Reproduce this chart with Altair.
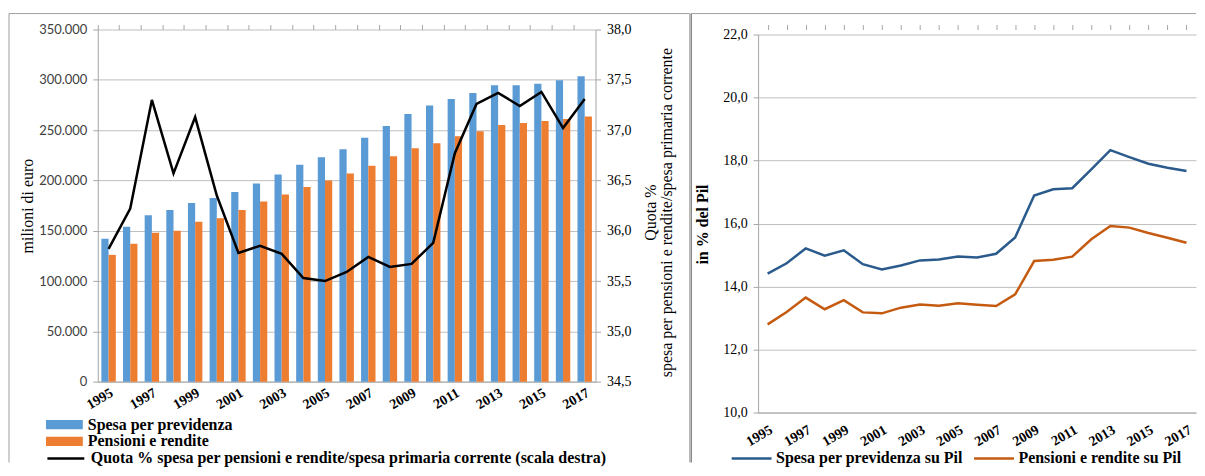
import altair as alt
import pandas as pd

# ---------------- data ----------------
years = list(range(1995, 2018))
spesa_previdenza = [142000, 154000, 165500, 170500, 177500, 182500, 188500, 197000, 206000, 215500,
                    223000, 231000, 242500, 254000, 266000, 274500, 281000, 287000, 294500, 294500,
                    296000, 299500, 303500]
pensioni_rendite = [126000, 137000, 148000, 150000, 159000, 162500, 170500, 179000, 186000, 193500,
                    200000, 207000, 214500, 224000, 232000, 237000, 244000, 249000, 255000, 257000,
                    259000, 261000, 263500]
quota_pct = [35.82, 36.22, 37.30, 36.57, 37.13, 36.35, 35.78, 35.85, 35.77, 35.53,
             35.50, 35.59, 35.74, 35.64, 35.67, 35.88, 36.77, 37.26, 37.37, 37.24,
             37.38, 37.02, 37.31]
spesa_su_pil = [14.41, 14.74, 15.21, 14.98, 15.15, 14.71, 14.54, 14.67, 14.83, 14.86,
                14.95, 14.92, 15.04, 15.56, 16.89, 17.09, 17.12, 17.72, 18.33, 18.11,
                17.90, 17.77, 17.67]
pensioni_su_pil = [12.80, 13.19, 13.65, 13.28, 13.57, 13.18, 13.15, 13.33, 13.43, 13.39,
                   13.47, 13.42, 13.38, 13.75, 14.81, 14.85, 14.95, 15.50, 15.92, 15.87,
                   15.70, 15.55, 15.39]

bar_series = ["Spesa per previdenza", "Pensioni e rendite"]
line_label = "Quota % spesa per pensioni e rendite/spesa primaria corrente (scala destra)"
pil_series = ["Spesa per previdenza su Pil", "Pensioni e rendite su Pil"]
label_years = years[::2]
left_ticks = list(range(0, 350001, 50000))
right_ticks = [34.5, 35.0, 35.5, 36.0, 36.5, 37.0, 37.5, 38.0]
pil_ticks = [10, 12, 14, 16, 18, 20, 22]

bars_df = pd.DataFrame({
    "year": years * 2,
    "serie": [bar_series[0]] * len(years) + [bar_series[1]] * len(years),
    "valore": spesa_previdenza + pensioni_rendite,
})
quota_df = pd.DataFrame({"year": years, "serie": [line_label] * len(years), "quota": quota_pct})
pil_df = pd.DataFrame({
    "year": years * 2,
    "serie": [pil_series[0]] * len(years) + [pil_series[1]] * len(years),
    "valore": spesa_su_pil + pensioni_su_pil,
})
one_row = pd.DataFrame({"k": [0]})

# ---------------- style ----------------
SERIF = "Liberation Serif"
GRID = "#BFBFBF"
AXC = "#A6A6A6"
FRAME = "#A0A0A0"
W1, H1 = 499, 353
W2, H2 = 439, 384          # right panel: plot drawn in range [H2, 5]
LEG_FS = 16

# ---------------- left panel ----------------
f1_left = alt.Chart(one_row).mark_rule(stroke=FRAME, strokeWidth=1).encode(
    x=alt.value(-89), y=alt.value(-16), y2=alt.value(434))
f1_top = alt.Chart(one_row).mark_rule(stroke=FRAME, strokeWidth=1).encode(
    x=alt.value(-89), x2=alt.value(593.5), y=alt.value(-16))
f1_right = alt.Chart(one_row).mark_rule(stroke=FRAME, strokeWidth=1).encode(
    x=alt.value(593.5), y=alt.value(-16), y2=alt.value(434))

bars = alt.Chart(bars_df).mark_bar().encode(
    x=alt.X("year:O", title=None,
            scale=alt.Scale(paddingInner=0, paddingOuter=0),
            axis=alt.Axis(values=label_years, labelAngle=330, labelAlign="right", labelBaseline="top",
                          labelFont=SERIF, labelFontWeight="bold", labelFontSize=14, labelColor="black",
                          labelPadding=4, ticks=False, domainColor=AXC, grid=False)),
    xOffset=alt.XOffset("serie:N", sort=bar_series,
                        scale=alt.Scale(domain=bar_series, paddingInner=0, paddingOuter=0.5)),
    y=alt.Y("valore:Q", title="milioni  di euro",
            scale=alt.Scale(domain=[0, 350000], nice=False),
            axis=alt.Axis(values=left_ticks, format=",.0f", labelFont="Lato", labelFontSize=13,
                          labelColor="#404040", labelPadding=6, titleFont=SERIF, titleFontSize=16,
                          titleFontWeight="normal", titleColor="black", titleX=-70, titleY=H1 / 2,
                          titleAngle=270, titleAlign="center", titleBaseline="middle",
                          gridColor=GRID, domainColor=AXC, tickColor=AXC, tickSize=5)),
    color=alt.Color("serie:N", sort=bar_series,
                    scale=alt.Scale(domain=bar_series, range=["#5B9BD5", "#ED7D31"]),
                    legend=alt.Legend(title=None, orient="none", legendX=-52, legendY=387.5,
                                      direction="vertical", symbolType="M-1,-0.25H1V0.25H-1Z",
                                      symbolSize=1369, symbolStrokeWidth=0, symbolOpacity=1,
                                      labelFont=SERIF, labelFontWeight="bold", labelFontSize=LEG_FS,
                                      labelColor="black", labelOffset=5, clipHeight=17, rowPadding=0,
                                      padding=0, labelLimit=1000)),
)

line = alt.Chart(quota_df).mark_line(strokeWidth=2.5).encode(
    x=alt.X("year:O", title=None,
            axis=alt.Axis(values=years, bandPosition=0, labels=False, domain=False, ticks=True,
                          tickSize=5, tickColor=AXC, grid=False)),
    y=alt.Y("quota:Q",
            title=["Quota %", "spesa per pensioni e rendite/spesa primaria  corrente"],
            scale=alt.Scale(domain=[34.5, 38.0], nice=False, zero=False),
            axis=alt.Axis(orient="right", values=right_ticks, format=".1f", grid=False,
                          labelFont=SERIF, labelFontSize=14, labelColor="black", labelPadding=6,
                          titleFont=SERIF, titleFontSize=16, titleFontWeight="normal",
                          titleColor="black", titleAngle=270, titleX=55, titleY=183,
                          titleAlign="center", titleBaseline="middle", titleLineHeight=16,
                          domainColor=AXC, tickColor=AXC, tickSize=5)),
    stroke=alt.Stroke("serie:N", scale=alt.Scale(domain=[line_label], range=["black"]),
                      legend=alt.Legend(title=None, orient="none", legendX=-52, legendY=421.5,
                                        symbolType="stroke", symbolSize=1369, symbolStrokeWidth=2.5,
                                        labelFont=SERIF, labelFontWeight="bold", labelFontSize=LEG_FS,
                                        labelColor="black", labelOffset=5, clipHeight=17,
                                        padding=0, labelLimit=1000)),
)

left = alt.layer(f1_left, f1_top, f1_right, bars, line).resolve_scale(
    y="independent", color="independent", stroke="independent"
).resolve_axis(x="independent").properties(width=W1, height=H1)

# ---------------- right panel ----------------
f2_left = alt.Chart(one_row).mark_rule(stroke="#8C8C8C", strokeWidth=1.5).encode(
    x=alt.value(-67), y=alt.value(-16), y2=alt.value(434))
f2_top = alt.Chart(one_row).mark_rule(stroke=FRAME, strokeWidth=1).encode(
    x=alt.value(-67), x2=alt.value(W2), y=alt.value(-16))

pil_lines = alt.Chart(pil_df).mark_line(strokeWidth=2.5).encode(
    x=alt.X("year:O", title=None,
            scale=alt.Scale(paddingInner=0, paddingOuter=0),
            axis=alt.Axis(values=label_years, labelAngle=330, labelAlign="right", labelBaseline="top",
                          labelFont=SERIF, labelFontWeight="bold", labelFontSize=14, labelColor="black",
                          labelPadding=10, ticks=False, domainColor=AXC, grid=False)),
    y=alt.Y("valore:Q", title="in % del Pil",
            scale=alt.Scale(domain=[10, 22], nice=False, zero=False, range=[H2, 5]),
            axis=alt.Axis(values=pil_ticks, format=".1f", labelFont=SERIF, labelFontSize=14,
                          labelColor="black", labelPadding=6, titleFont=SERIF, titleFontSize=16,
                          titleFontWeight="bold", titleColor="black", titleX=-56, titleY=H2 / 2 + 3,
                          titleAngle=270, titleAlign="center", titleBaseline="middle",
                          gridColor=GRID, domainColor=AXC, tickColor=AXC, tickSize=5)),
    color=alt.Color("serie:N", sort=pil_series,
                    scale=alt.Scale(domain=pil_series, range=["#2A5B8C", "#C55A11"]),
                    legend=alt.Legend(title=None, orient="none", direction="horizontal",
                                      legendX=-28, legendY=421.5, symbolType="stroke",
                                      symbolSize=1600, symbolStrokeWidth=2.5, labelFont=SERIF,
                                      labelFontWeight="bold", labelFontSize=LEG_FS, labelColor="black",
                                      labelOffset=3, columnPadding=9, clipHeight=17, padding=0,
                                      labelLimit=1000)),
)

pil_ticks_layer = alt.Chart(pil_df).mark_point(opacity=0).encode(
    x=alt.X("year:O", title=None,
            axis=alt.Axis(values=years, bandPosition=0, labels=False, domain=False, ticks=True,
                          tickSize=5, tickColor=AXC, grid=False)),
)

right = alt.layer(f2_left, f2_top, pil_lines, pil_ticks_layer).resolve_axis(
    x="independent"
).properties(width=W2, height=H2)

chart = alt.hconcat(left, right, spacing=0).resolve_scale(
    color="independent", stroke="independent"
).resolve_legend(
    color="independent", stroke="independent"
).properties(
    padding={"left": 0, "top": 4, "right": 0, "bottom": 0},
    background="white",
).configure_view(stroke=None)

chart.save("out.html", embed_options={
    "renderer": "svg", "actions": False,
    "formatLocale": {"decimal": ",", "thousands": ".", "grouping": [3], "currency": ["€", ""]},
})
